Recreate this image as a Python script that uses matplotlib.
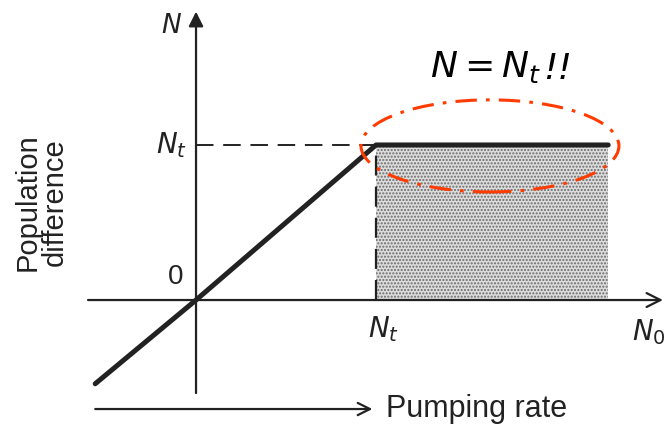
import numpy as np
import matplotlib.pyplot as plt
from matplotlib.patches import Ellipse, Rectangle

# Population difference vs pumping rate, in units of the threshold N_t
pump = [-0.56, 0.0, 1.0, 2.29]
pop = [-0.54, 0.0, 1.0, 1.0]
n_t = 1.0
pump_max = 2.29

fig = plt.figure(figsize=(6.66, 4.25), dpi=100)
ax = fig.add_axes([0, 0, 1, 1])
ax.set_xlim(-1.089, 2.611)
ax.set_ylim(-0.806, 1.935)
ax.axis('off')

ink = '#222222'
arrow = dict(arrowstyle='-|>', color=ink, lw=1.6, mutation_scale=22, shrinkA=0, shrinkB=0)

# axes with arrow heads
ax.annotate('', xy=(0, 1.86), xytext=(0, -0.60), arrowprops=arrow)
ax.annotate('', xy=(2.594, 0), xytext=(-0.60, 0),
            arrowprops=dict(arrowstyle='->', color=ink, lw=1.6, mutation_scale=25,
                            shrinkA=0, shrinkB=0))

# shaded region above threshold
ax.add_patch(Rectangle((n_t, 0), pump_max - n_t, n_t, facecolor='#dcdcdc',
                       edgecolor='#6a6a6a', hatch='.....', lw=0, zorder=1))

# threshold guides
ax.plot([0, n_t], [n_t, n_t], color=ink, lw=1.4, dashes=(9, 5))
ax.plot([n_t, n_t], [0, n_t], color=ink, lw=1.6, dashes=(9, 5))

# clamped curve
ax.plot(pump, pop, color=ink, lw=3.6, solid_capstyle='round', zorder=3)

# labels
it = dict(fontsize=19, style='italic', family='DejaVu Sans', color=ink)
ax.text(-0.085, 1.77, 'N', ha='right', va='center', **it)
ax.text(-0.05, n_t, r'$N_t$', ha='right', va='center', fontsize=20, color=ink)
ax.text(-0.07, 0.15, '0', ha='right', va='center', fontsize=20, color=ink,
        family='Liberation Sans')
ax.text(n_t + 0.04, -0.19, r'$N_t$', ha='center', va='center', fontsize=20, color=ink)
ax.text(2.42, -0.21, r'$N_0$', ha='left', va='center', fontsize=20, color=ink)

ax.text(-0.861, 0.63, 'Population\ndifference', rotation=90, ha='center', va='center',
        fontsize=21, linespacing=0.95, color=ink, family='Liberation Sans')

ax.annotate('', xy=(0.98, -0.703), xytext=(-0.56, -0.703),
            arrowprops=dict(arrowstyle='->', color=ink, lw=1.6, mutation_scale=22,
                            shrinkA=0, shrinkB=0))
ax.text(1.055, -0.70, 'Pumping rate', ha='left', va='center', fontsize=22,
        color=ink, family='Liberation Sans')

# highlight of the clamped region
ax.add_patch(Ellipse((1.633, 0.994), 1.433, 0.594, fill=False, edgecolor='#ff3b00',
                     lw=2.2, linestyle=(0, (7, 3, 1.2, 3)), zorder=4))
eq = ax.text(1.61, 1.50, r'$N = N_t$', ha='center', va='center', fontsize=26,
             color='black', math_fontfamily='dejavusans')
ax.annotate('!!', xy=(1.0, 0.5), xycoords=eq, xytext=(1, -1), textcoords='offset points',
            ha='left', va='center', fontsize=26, style='italic', color='black',
            family='DejaVu Sans')

fig.savefig('out.png', dpi=100)
